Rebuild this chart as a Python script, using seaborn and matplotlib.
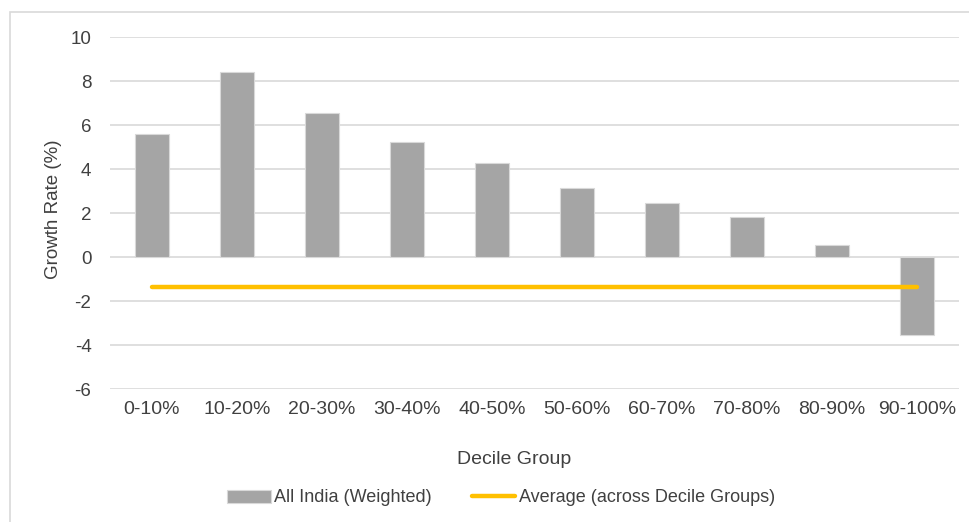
import matplotlib
matplotlib.use("Agg")
import matplotlib.pyplot as plt
import seaborn as sns
from matplotlib.patches import Rectangle

categories = ["0-10%", "10-20%", "20-30%", "30-40%", "40-50%",
              "50-60%", "60-70%", "70-80%", "80-90%", "90-100%"]
growth = [5.58, 8.39, 6.53, 5.21, 4.26, 3.15, 2.47, 1.83, 0.56, -3.53]
average = [-1.35] * len(categories)
yticks = [10, 8, 6, 4, 2, 0, -2, -4, -6]

sns.set_theme(style="white")
plt.rcParams['font.family'] = ['Liberation Sans', 'DejaVu Sans']
plt.rcParams['axes.unicode_minus'] = False
text_color = "#404040"

fig = plt.figure(figsize=(9.69, 5.22), dpi=100)
ax = fig.add_axes([109.5 / 969, 1 - 389 / 522, 850 / 969, 352 / 522])

sns.barplot(x=categories, y=growth, color="#a5a5a5", width=0.4,
            edgecolor="#d9d9d9", linewidth=0.8, saturation=1,
            ax=ax, label="All India (Weighted)", zorder=2)
sns.lineplot(x=categories, y=average, color="#ffc000", linewidth=3.2,
             ax=ax, label="Average (across Decile Groups)", zorder=3,
             solid_capstyle="round")

ax.set_xlim(-0.5, 9.5)
ax.set_ylim(-6, 10)
ax.set_yticks(yticks)
ax.grid(axis="y", color="#d9d9d9", linewidth=1.2, zorder=0)
ax.set_axisbelow(True)
for s in ax.spines.values():
    s.set_visible(False)
ax.tick_params(axis="y", length=0, pad=13, labelsize=13.5, labelcolor=text_color)
ax.tick_params(axis="x", length=0, pad=9, labelsize=14, labelcolor=text_color)

ax.set_xlabel("Decile Group", fontsize=14, color=text_color)
ax.xaxis.set_label_coords(0.476, -0.176)
ax.set_ylabel("Growth Rate (%)", fontsize=13.5, color=text_color)
ax.yaxis.set_label_coords(-0.056, 0.51)

handles, labels = ax.get_legend_handles_labels()
order = [labels.index("All India (Weighted)"),
         labels.index("Average (across Decile Groups)")]
ax.legend([handles[i] for i in order], [labels[i] for i in order],
          loc="center", bbox_to_anchor=(501 / 969, 1 - 498 / 522),
          bbox_transform=fig.transFigure, ncol=2, frameon=False,
          fontsize=13, handlelength=2.4, handletextpad=0.2,
          columnspacing=2.2, labelcolor=text_color)

fig.patches.append(Rectangle((10 / 969, -0.02), 1.0, 1 - 12 / 522 + 0.02,
                             transform=fig.transFigure, fill=False,
                             edgecolor="#d9d9d9", linewidth=1.2))

fig.savefig("out.png", dpi=100)
